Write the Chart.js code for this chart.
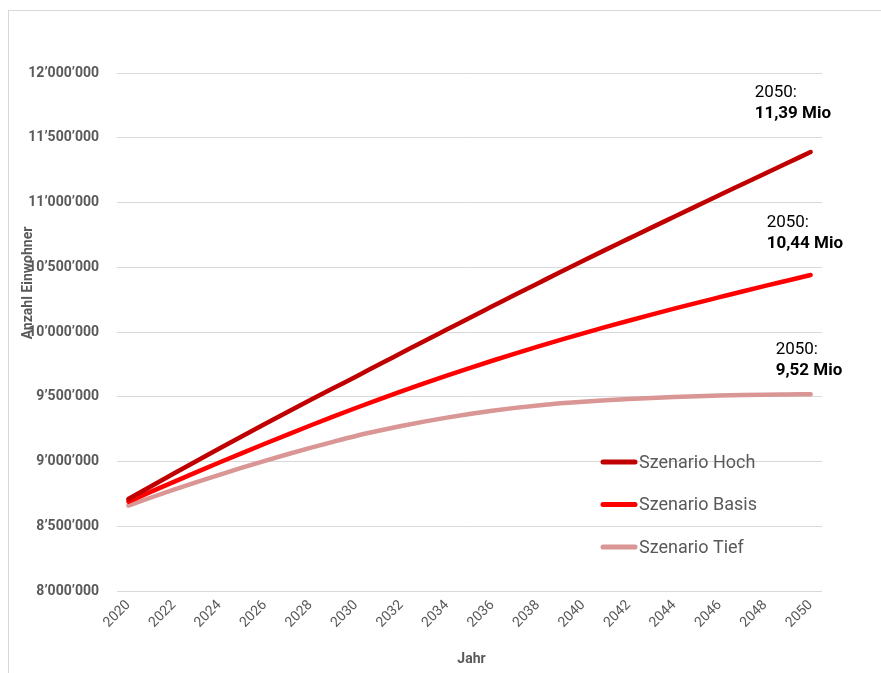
<!DOCTYPE html>
<html>
<head>
<meta charset="utf-8">
<script src="https://cdn.jsdelivr.net/npm/chart.js@4.4.1/dist/chart.umd.min.js"></script>
<style>
    html, body { margin: 0; padding: 0; background: #fff; overflow: hidden; }
    #frame {
        position: absolute; left: 8px; top: 10px;
        width: 900px; height: 700px;
        border: 1px solid #d9d9d9;
    }
    #wrap { position: absolute; left: 0; top: 0; width: 872px; height: 662px; }
</style>
</head>
<body>
<div id="frame"><div id="wrap"><canvas id="lineChart"></canvas></div></div>
<script>
// Jahre (x-Achse)
const years = ['2020', '2021', '2022', '2023', '2024', '2025', '2026', '2027', '2028', '2029',
    '2030', '2031', '2032', '2033', '2034', '2035', '2036', '2037', '2038', '2039',
    '2040', '2041', '2042', '2043', '2044', '2045', '2046', '2047', '2048', '2049', '2050'];

// Bevoelkerung pro Szenario
const hoch = [8710000, 8809000, 8907000, 9004000, 9100000, 9195000, 9289000, 9382000, 9474000, 9565000,
    9655000, 9747000, 9838000, 9929000, 10019000, 10109000, 10198000, 10287000, 10375000, 10463000,
    10550000, 10636000, 10721000, 10806000, 10890000, 10974000, 11058000, 11141000, 11224000, 11307000, 11390000];
const basis = [8690000, 8767000, 8843000, 8918000, 8992000, 9065000, 9137000, 9208000, 9278000, 9346000,
    9413000, 9478000, 9541000, 9603000, 9663000, 9721000, 9778000, 9833000, 9887000, 9939000,
    9990000, 10039000, 10087000, 10134000, 10180000, 10225000, 10269000, 10313000, 10356000, 10398000, 10440000];
const tief = [8660000, 8722000, 8782000, 8840000, 8897000, 8952000, 9005000, 9056000, 9105000, 9152000,
    9197000, 9237000, 9274000, 9308000, 9339000, 9367000, 9392000, 9414000, 9433000, 9449000,
    9462000, 9473000, 9483000, 9491000, 9498000, 9504000, 9509000, 9513000, 9516000, 9518000, 9520000];

const grey = '#595959';
const font = 'Roboto';

function fmt(v) {
    return Math.round(v).toString().replace(/\B(?=(\d{3})+(?!\d))/g, '\u2019');
}

// Beschriftung "2050: xx,xx Mio" am Linienende
const endLabels = {
    id: 'endLabels',
    afterDatasetsDraw(chart, args, opts) {
        const ctx = chart.ctx;
        ctx.save();
        ctx.fillStyle = '#000';
        ctx.textAlign = 'left';
        ctx.textBaseline = 'middle';
        chart.data.datasets.forEach((ds, i) => {
            const meta = chart.getDatasetMeta(i);
            const pt = meta.data[meta.data.length - 1];
            const off = opts.offsets[i];
            const val = ds.data[ds.data.length - 1];
            ctx.font = '17px ' + font;
            ctx.fillText(years[years.length - 1] + ':', pt.x + off[0], pt.y + off[1]);
            ctx.font = 'bold 17px ' + font;
            ctx.fillText((val / 1e6).toFixed(2).replace('.', ',') + ' Mio', pt.x + off[0], pt.y + off[1] + 21);
        });
        ctx.restore();
    }
};

// Legende innerhalb der Grafik
const innerLegend = {
    id: 'innerLegend',
    afterDraw(chart, args, opts) {
        const ctx = chart.ctx;
        ctx.save();
        chart.data.datasets.forEach((ds, i) => {
            const y = opts.y + i * opts.gap;
            ctx.strokeStyle = ds.borderColor;
            ctx.lineWidth = 5;
            ctx.lineCap = 'round';
            ctx.beginPath();
            ctx.moveTo(opts.x, y);
            ctx.lineTo(opts.x + 32, y);
            ctx.stroke();
            ctx.fillStyle = grey;
            ctx.font = '18px ' + font;
            ctx.textBaseline = 'middle';
            ctx.fillText(ds.label, opts.x + 36, y + 1);
        });
        ctx.restore();
    }
};

// Achsentitel
const axisTitles = {
    id: 'axisTitles',
    afterDraw(chart) {
        const ctx = chart.ctx;
        const a = chart.chartArea;
        ctx.save();
        ctx.fillStyle = grey;
        ctx.font = 'bold 14px ' + font;
        ctx.textAlign = 'center';
        ctx.textBaseline = 'middle';
        ctx.fillText('Jahr', (a.left + a.right) / 2 + 2, 648);
        ctx.translate(19, 272);
        ctx.rotate(-Math.PI / 2);
        ctx.fillText('Anzahl Einwohner', 0, 0);
        ctx.restore();
    }
};

function createChart() {
    const ctx = document.getElementById('lineChart').getContext('2d');
    new Chart(ctx, {
        type: 'line',
        data: {
            labels: years,
            datasets: [
                { label: 'Szenario Hoch', data: hoch, borderColor: '#C00000' },
                { label: 'Szenario Basis', data: basis, borderColor: '#FF0000' },
                { label: 'Szenario Tief', data: tief, borderColor: '#D99694' }
            ]
        },
        options: {
            responsive: true,
            maintainAspectRatio: false,
            animation: false,
            devicePixelRatio: 1,
            elements: {
                line: { borderWidth: 4.5, cubicInterpolationMode: 'monotone', fill: false, borderCapStyle: 'round' },
                point: { radius: 0 }
            },
            layout: { padding: { left: 0, right: 59, top: 62, bottom: 0 } },
            scales: {
                y: {
                    min: 8000000,
                    max: 12000000,
                    afterFit: s => { s.width = 108; },
                    ticks: {
                        stepSize: 500000,
                        padding: 18,
                        color: grey,
                        font: { family: font, size: 14, weight: 'bold' },
                        callback: v => fmt(v)
                    },
                    grid: { color: '#d9d9d9', drawTicks: false },
                    border: { display: false }
                },
                x: {
                    offset: true,
                    afterFit: s => { s.height = 82; },
                    ticks: {
                        autoSkip: false,
                        maxRotation: 45,
                        minRotation: 45,
                        padding: 6,
                        color: grey,
                        font: { family: font, size: 14 },
                        callback: function (v, i) { return i % 2 === 0 ? years[i] : ''; }
                    },
                    grid: { display: false, drawTicks: false },
                    border: { display: false }
                }
            },
            plugins: {
                legend: { display: false },
                tooltip: { enabled: false },
                endLabels: { offsets: [[-56, -59], [-44, -52], [-35, -44]] },
                innerLegend: { x: 594, y: 451, gap: 42.5 }
            }
        },
        plugins: [endLabels, innerLegend, axisTitles]
    });
}

createChart();
</script>
</body>
</html>
